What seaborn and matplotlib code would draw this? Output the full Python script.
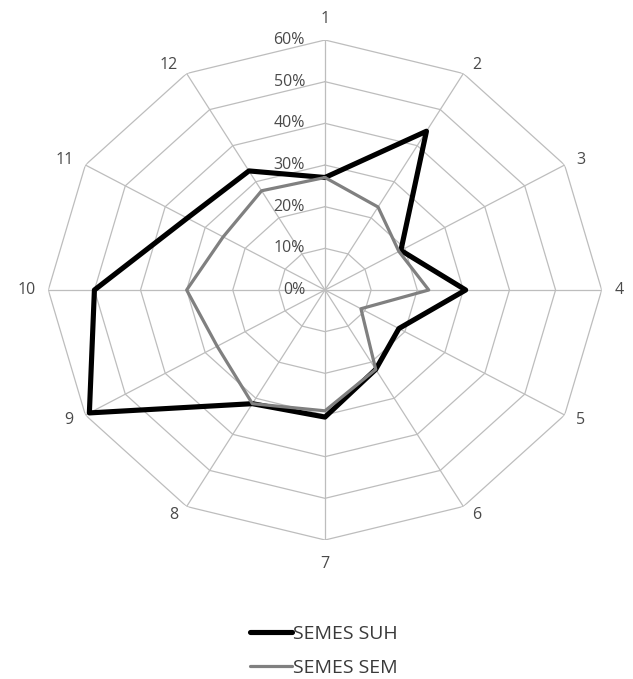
import numpy as np
import pandas as pd
import matplotlib
matplotlib.use("Agg")
import matplotlib.pyplot as plt
import seaborn as sns

# Radar chart: share of semes per category for two series
categories = [str(i) for i in range(1, 13)]
semes_suh = [27, 44, 19, 30.5, 18.5, 22, 30.5, 31.5, 59, 50, 34.5, 33]
semes_sem = [27, 23, 18.5, 22.5, 9, 22, 29, 31.5, 27, 30, 25.5, 27.5]
ring_levels = [0, 10, 20, 30, 40, 50, 60]
ring_labels = [f"{v}%" for v in ring_levels]
series_names = ["SEMES SUH", "SEMES SEM"]

sns.set_style("white")
plt.rcParams["font.family"] = ["Open Sans", "DejaVu Sans"]

W, H = 633, 679
fig = plt.figure(figsize=(W / 100, H / 100), dpi=100)
cx, cy, rx, ry = 325, 290, 276.7, 250
ax = fig.add_axes([(cx - rx) / W, (H - cy - ry) / H, 2 * rx / W, 2 * ry / H],
                  projection="polar")
ax.set_aspect("auto")
ax.set_theta_zero_location("N")
ax.set_theta_direction(-1)
ax.set_ylim(0, ring_levels[-1])
ax.grid(False)
ax.spines["polar"].set_visible(False)
ax.set_xticks([])
ax.set_yticks([])
ax.patch.set_alpha(0)

n = len(categories)
theta = np.deg2rad(np.arange(n) * 360 / n)
closed = np.append(theta, 2 * np.pi)

grid_col = "#bdbdbd"
for lvl in ring_levels[1:]:
    ax.plot(closed, [lvl] * (n + 1), color=grid_col, lw=0.9, zorder=1)
for t in theta:
    ax.plot([t, t], [0, ring_levels[-1]], color=grid_col, lw=0.9, zorder=1)

df = pd.DataFrame({
    "theta": closed,
    series_names[0]: semes_suh + [semes_suh[0]],
    series_names[1]: semes_sem + [semes_sem[0]],
})
sns.lineplot(data=df, x="theta", y=series_names[0], ax=ax, sort=False,
             color="black", lw=3.7, zorder=3, label=series_names[0])
sns.lineplot(data=df, x="theta", y=series_names[1], ax=ax, sort=False,
             color="#808080", lw=2.3, zorder=4, label=series_names[1])
ax.set_xlabel("")
ax.set_ylabel("")
handles, labels = ax.get_legend_handles_labels()
ax.get_legend().remove()

label_col = "#4a4a4a"
# category labels around the outer ring
for t, lab in zip(theta, categories):
    s, c = np.sin(t), np.cos(t)
    if abs(s) < 1e-6:
        ha = "center"
        va = "bottom" if c > 0 else "top"
        dx, dy = 0, (13 if c > 0 else -16)
    else:
        ha = "left" if s > 0 else "right"
        va = "center"
        dx = np.sign(s) * (4 + 9 * abs(s))
        dy = 10 * c
    ax.annotate(lab, xy=(t, ring_levels[-1]), xytext=(dx, dy),
                textcoords="offset pixels", ha=ha, va=va,
                fontsize=11.5, color=label_col, annotation_clip=False)

# percentage labels along the first spoke
for lvl, lab in zip(ring_levels, ring_labels):
    ax.annotate(lab, xy=(0, lvl), xytext=(-20, 0), textcoords="offset pixels",
                ha="right", va="center", fontsize=11.5, color=label_col,
                annotation_clip=False)

fig.legend(handles, labels, loc="upper left",
           bbox_to_anchor=(250 / W, 1 - 625 / H), frameon=False,
           fontsize=14, handlelength=2.15, handletextpad=0.05,
           labelspacing=0.8, borderpad=0, borderaxespad=0,
           labelcolor="#3a3a3a")

fig.savefig("out.png", dpi=100, facecolor="white")
